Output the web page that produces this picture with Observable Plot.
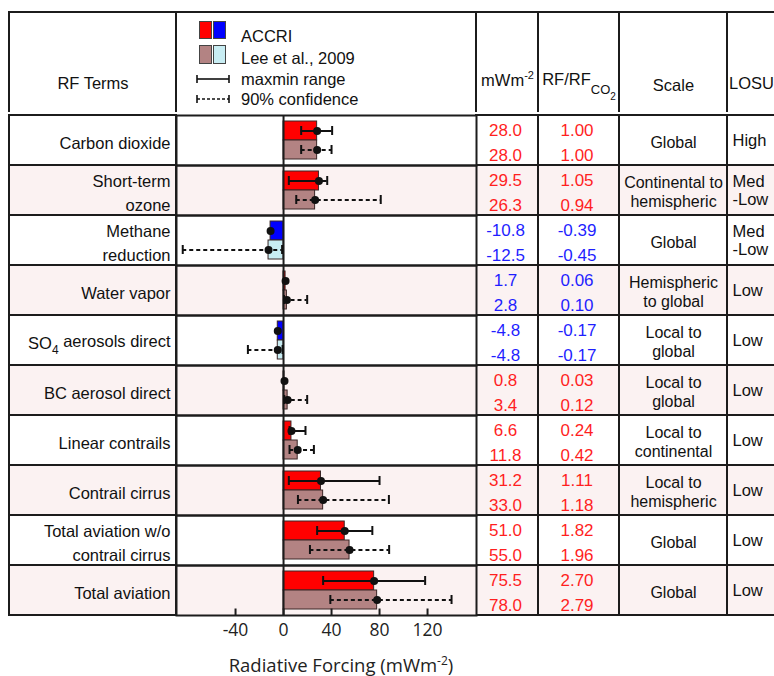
<!DOCTYPE html>
<html>
<head>
<meta charset="utf-8">
<script src="https://cdn.jsdelivr.net/npm/d3@7"></script>
<script src="https://cdn.jsdelivr.net/npm/@observablehq/plot@0.6"></script>
<style>
  html, body { margin: 0; padding: 0; background: #fff; overflow: hidden; }
  #fig { position: relative; width: 774px; height: 676px; overflow: hidden; background: #fff;
         font-family: "Liberation Sans", Arial, sans-serif; color: #111; }
  #fig > * { position: absolute; }
  .hcell { box-sizing: border-box; border-top: 2px solid #1c1c1c; border-left: 2px solid #1c1c1c; }
  .htext { position: absolute; left: 0; right: 0; line-height: 20px; font-size: 16.5px; white-space: nowrap; }
  .sw { box-sizing: border-box; border: 1px solid #444; }
  .ltext { font-size: 16.5px; line-height: 20px; white-space: nowrap; }
</style>
</head>
<body>
<div id="fig"></div>
<script>
// ---------------- data ----------------
const terms = ["Carbon dioxide", "Short-term\nozone", "Methane\nreduction", "Water vapor",
  "SO4 aerosols direct", "BC aerosol direct", "Linear contrails", "Contrail cirrus",
  "Total aviation w/o\ncontrail cirrus", "Total aviation"];
const sources = ["ACCRI", "Lee et al., 2009"];
const accriRF = [28.0, 29.5, -10.8, 1.7, -4.8, 0.8, 6.6, 31.2, 51.0, 75.5];
const leeRF   = [28.0, 26.3, -12.5, 2.8, -4.8, 3.4, 11.8, 33.0, 55.0, 78.0];
const accriLow  = [14.7, 4.4, null, null, null, null, 5.0, 4.4, 28.0, 33.0];   // maxmin range
const accriHigh = [40.5, 36.4, null, null, null, null, 18.3, 80.0, 74.0, 118.0];
const leeLow  = [14.7, 10.6, -84.0, 0.4, -29.7, 0.6, 5.0, 12.0, 22.0, 39.0];  // 90% confidence
const leeHigh = [40.0, 81.0, -1.2, 19.7, -0.8, 19.7, 25.3, 87.8, 88.0, 140.0];
const accriRatio = [1.00, 1.05, -0.39, 0.06, -0.17, 0.03, 0.24, 1.11, 1.82, 2.70];
const leeRatio   = [1.00, 0.94, -0.45, 0.10, -0.17, 0.12, 0.42, 1.18, 1.96, 2.79];
const scaleText = ["Global", "Continental to\nhemispheric", "Global", "Hemispheric\nto global",
  "Local to\nglobal", "Local to\nglobal", "Local to\ncontinental", "Local to\nhemispheric",
  "Global", "Global"];
const losu = ["High", "Med\n-Low", "Med\n-Low", "Low", "Low", "Low", "Low", "Low", "Low", "Low"];
const xTicks = [-40, 0, 40, 80, 120];

// ---------------- layout & style ----------------
const L = { top: 12, rowTop: 112, rowH: 50.5, axisH: 59,
  cols: { labels: [9, 167], chart: [176, 300], rf: [476, 62], ratio: [538, 81], scale: [619, 108], losu: [727, 60] } };
const xDomain = [-89.2, 160.8];
const lineColor = "#1c1c1c";
const blueTextRows = new Set([2, 3, 4]);
const textColor = i => blueTextRows.has(i) ? "#1f1fff" : "#ff1f1f";
const bgColor = i => i % 2 ? "#fbf2f2" : "#ffffff";
const FONT = '"Liberation Sans", Arial, sans-serif';
const N = terms.length;
const bodyH = L.rowH * N;
const fig = document.getElementById("fig");
const hyphen = s => s.replace("\u2212", "-");
const fmt1 = d => hyphen(d3.format(".1f")(d)), fmt2 = d => hyphen(d3.format(".2f")(d));

function put(el, x, y) { el.style.left = x + "px"; el.style.top = y + "px"; fig.appendChild(el); return el; }

// ---------------- header cells ----------------
const heads = [
  { key: "labels", html: "RF Terms", cy: 82, align: "center" },
  { key: "chart", html: "", cy: 0, align: "center" },
  { key: "rf", html: 'mWm<span style="font-size:11px;position:relative;top:-7px">-2</span>', cy: 79, align: "center" },
  { key: "ratio", html: 'RF/RF<span style="font-size:13px;position:relative;top:9px">CO<span style="font-size:10px;position:relative;top:6px">2</span></span>', cy: 78, align: "center" },
  { key: "scale", html: "Scale", cy: 84, align: "center" },
  { key: "losu", html: "LOSU", cy: 82, align: "left" }
];
for (const h of heads) {
  const [x, w] = L.cols[h.key];
  const d = document.createElement("div");
  d.className = "hcell";
  d.style.width = (w + 1) + "px";
  d.style.height = (L.rowTop - L.top + 1) + "px";
  put(d, x - 1, L.top - 1);
  if (h.html) {
    const t = document.createElement("div");
    t.className = "htext";
    t.style.textAlign = h.align;
    if (h.align === "left") t.style.paddingLeft = "1px";
    t.style.top = (h.cy - L.top - 10) + "px";
    t.innerHTML = h.html;
    d.appendChild(t);
  }
}

// ---------------- legend (in chart header) ----------------
const swatches = [
  [["#ff0000", "#0000ff"], sources[0], 21, 18, 36],
  [["#b38383", "#c8edf3"], sources[1], 45, 19, 58]
];
for (const [cols, label, top, hgt, cy] of swatches) {
  cols.forEach((c, k) => {
    const s = document.createElement("div");
    s.className = "sw";
    s.style.background = c; s.style.width = "13px"; s.style.height = hgt + "px";
    put(s, 199 + k * 14, top);
  });
  const t = document.createElement("div");
  t.className = "ltext"; t.textContent = label;
  put(t, 241, cy - 10);
}
const errLegend = [["maxmin range", null, 79], ["90% confidence", "3,2", 99]];
for (const [label, dash, cy] of errLegend) {
  const svg = d3.create("svg").attr("width", 36).attr("height", 10);
  svg.append("line").attr("x1", 2).attr("x2", 34).attr("y1", 5).attr("y2", 5)
    .attr("stroke", "#111").attr("stroke-width", 1.6).attr("stroke-dasharray", dash);
  for (const cx of [2, 34]) svg.append("line").attr("x1", cx).attr("x2", cx).attr("y1", 1).attr("y2", 9)
    .attr("stroke", "#111").attr("stroke-width", 1.6);
  put(svg.node(), 195, cy - 5);
  const t = document.createElement("div");
  t.className = "ltext"; t.textContent = label;
  put(t, 241, cy - 10);
}

// ---------------- table columns ----------------
function tableColumn(key, marks, fontSize) {
  const [x, w] = L.cols[key];
  const p = Plot.plot({
    width: w, height: bodyH, margin: 0,
    y: { domain: terms, padding: 0, axis: null },
    style: { fontFamily: FONT, fontSize: fontSize + "px", background: "none", overflow: "visible", color: "#111" },
    marks: [
      Plot.cell(terms, { y: d => d, fill: (d, i) => bgColor(i), stroke: lineColor, strokeWidth: 2, inset: 0 }),
      ...marks
    ]
  });
  put(p, x, L.rowTop);
  return p;
}

const labelsPlot = tableColumn("labels", [
  Plot.text(terms, { y: d => d, text: d => d, frameAnchor: "right", textAnchor: "end", dx: -6, dy: 1,
    lineHeight: 1.45, fill: "#111" })
], 16.5);

tableColumn("rf", [
  Plot.text(terms, { y: d => d, text: (d, i) => fmt1(accriRF[i]) + "\n" + fmt1(leeRF[i]),
    fill: (d, i) => textColor(i), lineHeight: 1.47, dy: 0, dx: -2 })
], 17);

tableColumn("ratio", [
  Plot.text(terms, { y: d => d, text: (d, i) => fmt2(accriRatio[i]) + "\n" + fmt2(leeRatio[i]),
    fill: (d, i) => textColor(i), lineHeight: 1.47, dy: 0, dx: -2 })
], 17);

tableColumn("scale", [
  Plot.text(terms, { y: d => d, text: (d, i) => scaleText[i], lineHeight: 1.2, fill: "#111", dy: 1 })
], 16);

tableColumn("losu", [
  Plot.text(terms, { y: d => d, text: (d, i) => losu[i], frameAnchor: "left", textAnchor: "start",
    dx: 5, lineHeight: 1.05, fill: "#111" })
], 16.5);

// SO4 subscript
d3.select(labelsPlot).selectAll("text").filter(function () { return this.textContent === "SO4 aerosols direct"; })
  .each(function () {
    const t = d3.select(this); t.text(null);
    t.append("tspan").text("SO");
    t.append("tspan").attr("dy", "0.4em").attr("font-size", "12px").text("4");
    t.append("tspan").attr("dy", "-0.4em").text(" aerosols direct");
  });

// ---------------- chart ----------------
const bars = terms.flatMap((t, i) => [
  { term: t, src: sources[0], v: accriRF[i], lo: accriLow[i], hi: accriHigh[i] },
  { term: t, src: sources[1], v: leeRF[i], lo: leeLow[i], hi: leeHigh[i] }
]);
const barFill = d => d.src === sources[0] ? (d.v >= 0 ? "#ff0000" : "#0000ff") : (d.v >= 0 ? "#b38383" : "#c8edf3");
const ranged = bars.filter(d => d.lo != null);
const accriRanged = ranged.filter(d => d.src === sources[0]);
const leeRanged = ranged.filter(d => d.src === sources[1]);
const errStyle = { fy: "term", y: "src", stroke: "#111", strokeWidth: 2 };

const [cx, cw] = L.cols.chart;
const chart = Plot.plot({
  width: cw, height: bodyH + L.axisH,
  marginTop: 0, marginBottom: L.axisH, marginLeft: 0, marginRight: 0,
  x: { domain: xDomain },
  y: { domain: sources, paddingInner: 0, paddingOuter: 0.26, axis: null },
  fy: { domain: terms, padding: 0, axis: null },
  style: { fontFamily: '"Open Sans", sans-serif', fontSize: "17.5px", background: "none", overflow: "visible", color: "#222" },
  marks: [
    Plot.rect(terms, { fy: d => d, fill: (d, i) => bgColor(i) }),
    Plot.barX(bars, { x: "v", y: "src", fy: "term", fill: barFill, stroke: "#3a2626", strokeWidth: 1 }),
    Plot.ruleX([0], { stroke: lineColor, strokeWidth: 2 }),
    Plot.ruleY(accriRanged, { ...errStyle, x1: "lo", x2: "hi" }),
    Plot.ruleY(leeRanged, { ...errStyle, x1: "lo", x2: "hi", strokeDasharray: "4,3" }),
    Plot.tickX(ranged, { ...errStyle, x: "lo", insetTop: 5, insetBottom: 5 }),
    Plot.tickX(ranged, { ...errStyle, x: "hi", insetTop: 5, insetBottom: 5 }),
    Plot.dot(bars, { x: "v", y: "src", fy: "term", r: 4, fill: "#111" }),
    Plot.frame({ stroke: lineColor, strokeWidth: 2 }),
    Plot.ruleX(xTicks, { x: d => d, fy: () => terms[N - 1], insetTop: L.rowH - 7, stroke: lineColor, strokeWidth: 2 }),
    Plot.axisX({ ticks: xTicks, tickSize: 0, tickPadding: 8, tickFormat: d => String(d), label: null })
  ]
});
put(chart, cx, L.rowTop);

// axis title
const xt = document.createElement("div");
xt.style.width = "400px"; xt.style.textAlign = "center";
xt.style.fontFamily = '"Open Sans", sans-serif'; xt.style.fontSize = "18.5px"; xt.style.lineHeight = "20px";
xt.style.color = "#222"; xt.style.whiteSpace = "nowrap";
xt.innerHTML = 'Radiative Forcing (mWm<span style="font-size:12px;position:relative;top:-7px">-2</span>)';
put(xt, 141, 655);
</script>
</body>
</html>
